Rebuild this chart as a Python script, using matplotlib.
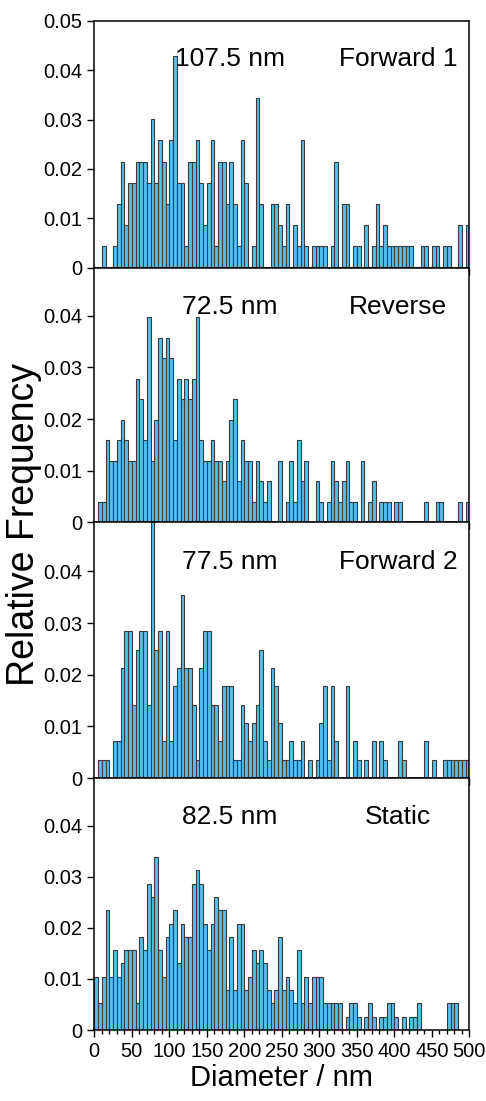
import numpy as np
import matplotlib
matplotlib.use("Agg")
import matplotlib.pyplot as plt
from matplotlib.ticker import MultipleLocator

plt.rcParams['font.family'] = ['Liberation Sans', 'DejaVu Sans']

# 5 nm bins from 0 to 500 nm
bin_edges = np.arange(0, 505, 5)

# particle counts per bin
counts_fwd1 = [0, 0, 1, 0, 0, 1, 3, 5, 2, 4,
               4, 5, 5, 5, 4, 7, 4, 6, 5, 3,
               6, 10, 4, 4, 1, 5, 5, 6, 4, 2,
               4, 6, 1, 5, 5, 3, 5, 3, 1, 6,
               4, 0, 1, 8, 3, 0, 0, 3, 3, 2,
               1, 3, 0, 2, 1, 6, 1, 0, 1, 1,
               1, 1, 0, 1, 5, 0, 3, 3, 0, 1,
               1, 0, 2, 0, 1, 3, 1, 2, 1, 1,
               1, 1, 1, 1, 1, 0, 0, 1, 1, 0,
               1, 1, 0, 1, 1, 0, 0, 2, 0, 2]
counts_rev = [0, 1, 1, 4, 3, 3, 4, 5, 4, 3,
              3, 7, 6, 4, 10, 3, 5, 9, 8, 9,
              8, 4, 7, 6, 7, 6, 7, 10, 4, 3,
              3, 4, 3, 3, 2, 3, 5, 6, 2, 4,
              3, 3, 1, 3, 2, 1, 2, 0, 0, 3,
              0, 1, 3, 1, 4, 2, 3, 0, 0, 2,
              1, 0, 1, 3, 2, 1, 2, 3, 1, 1,
              0, 3, 0, 1, 2, 0, 1, 1, 1, 0,
              1, 1, 0, 0, 0, 0, 0, 0, 1, 0,
              0, 1, 1, 0, 0, 0, 0, 1, 0, 1]
counts_fwd2 = [0, 1, 1, 1, 0, 2, 2, 6, 8, 8,
               4, 7, 8, 8, 4, 14, 7, 8, 2, 8,
               2, 5, 6, 10, 6, 6, 4, 1, 6, 8,
               8, 4, 4, 2, 5, 5, 5, 1, 1, 4,
               3, 2, 3, 4, 7, 2, 1, 6, 5, 3,
               1, 1, 2, 1, 1, 2, 0, 1, 0, 1,
               3, 5, 1, 5, 2, 0, 0, 5, 0, 2,
               1, 0, 1, 0, 2, 0, 2, 1, 0, 0,
               0, 2, 1, 0, 0, 0, 0, 0, 2, 0,
               1, 0, 0, 1, 1, 1, 1, 1, 1, 1]
counts_static = [4, 2, 4, 9, 4, 6, 4, 5, 6, 6,
                 6, 2, 7, 6, 11, 10, 13, 6, 4, 7,
                 8, 9, 5, 8, 7, 7, 11, 12, 11, 8,
                 6, 8, 10, 9, 9, 3, 7, 3, 8, 8,
                 3, 4, 6, 5, 6, 5, 3, 2, 3, 7,
                 3, 4, 3, 2, 6, 2, 4, 2, 4, 4,
                 4, 2, 2, 2, 2, 2, 0, 1, 2, 2,
                 1, 0, 1, 2, 1, 0, 1, 1, 2, 2,
                 1, 0, 1, 0, 1, 1, 2, 0, 0, 0,
                 0, 0, 0, 0, 2, 2, 2, 0, 0, 0]

# total particles measured in each run
totals = [233, 252, 282, 384]
names = ['Forward 1', 'Reverse', 'Forward 2', 'Static']
modes = ['107.5 nm', '72.5 nm', '77.5 nm', '82.5 nm']
all_counts = [counts_fwd1, counts_rev, counts_fwd2, counts_static]

# panel boxes in pixels (top, bottom) and y limits
W, H = 486, 1101
boxes = [(20.7, 267.7), (267.7, 522.3), (522.3, 778.0), (778.0, 1030.0)]
ytops = [0.05, 0.0493, 0.0495, 0.0493]
x0, x1 = 94.25, 469.25

fig = plt.figure(figsize=(W / 100, H / 100), dpi=100)

for k in range(4):
    top, bot = boxes[k]
    ax = fig.add_axes([x0 / W, 1 - bot / H, (x1 - x0) / W, (bot - top) / H])
    freq = np.array(all_counts[k]) / totals[k]
    ax.bar(bin_edges[:-1], freq, width=5, align='edge',
           color='#56bfe9', edgecolor='#3a3a3a', linewidth=0.8)
    ax.set_xlim(0, 500)
    ax.set_ylim(0, ytops[k])
    yt = [0, 0.01, 0.02, 0.03, 0.04] + ([0.05] if k == 0 else [])
    ax.set_yticks(yt)
    ax.set_yticklabels(['0' if v == 0 else '%.2f' % v for v in yt])
    ax.tick_params(axis='both', direction='out', labelsize=14.5, width=1, length=5)
    ax.tick_params(axis='x', which='minor', direction='out', width=1, length=3)
    if k < 3:
        ax.xaxis.set_major_locator(MultipleLocator(100))
        ax.xaxis.set_minor_locator(MultipleLocator(20))
        ax.set_xticklabels([])
    else:
        ax.xaxis.set_major_locator(MultipleLocator(50))
        ax.xaxis.set_minor_locator(MultipleLocator(10))
    for s in ax.spines.values():
        s.set_linewidth(1.1)
    ax.text(0.362, 0.845, modes[k], transform=ax.transAxes, fontsize=19,
            ha='center', va='center')
    ax.text(0.81, 0.845, names[k], transform=ax.transAxes, fontsize=19,
            ha='center', va='center')

fig.text(24 / W, 1 - 525 / H, 'Relative Frequency', rotation=90,
         fontsize=27, ha='center', va='center')
fig.text(281 / W, 1 - 1078 / H, 'Diameter / nm', fontsize=21,
         ha='center', va='center')

fig.savefig('out.png', dpi=100)
